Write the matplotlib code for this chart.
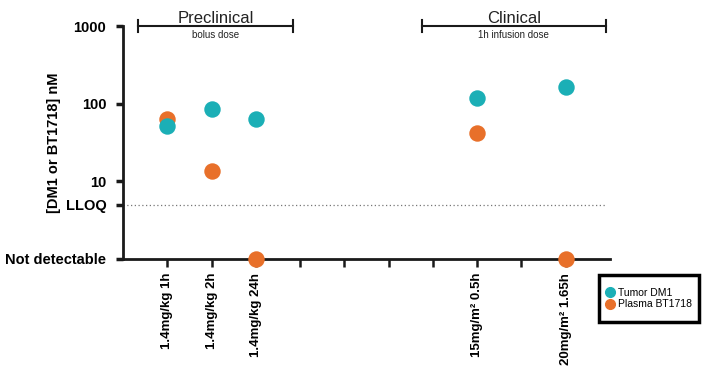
import numpy as np
import matplotlib.pyplot as plt
from matplotlib.lines import Line2D
from matplotlib.patches import Rectangle

plt.rcParams['font.family'] = ['Liberation Sans', 'DejaVu Sans']

# data (nM, log scale; 1 = not detectable)
positions = [1, 2, 3, 8, 10]
pos_labels = ["1.4mg/kg 1h", "1.4mg/kg 2h", "1.4mg/kg 24h",
              "15mg/m\u00b2 0.5h", "20mg/m\u00b2 1.65h"]
tumor_dm1 = [51, 85, 63, 117, 163]
plasma_bt1718 = [63, 13.5, 1, 42, 1]

y_ticks = [1, 5, 10, 100, 1000]
y_labels = ["Not detectable", "LLOQ", "10", "100", "1000"]
lloq = 5

teal = '#1BAFB6'
orange = '#E8702A'

fig = plt.figure(figsize=(7.18, 3.77), dpi=100)
ax = fig.add_axes([0.1713, 0.313, 0.6783, 0.618])

ax.set_yscale('log')
ax.set_ylim(1, 1000)
ax.set_xlim(0, 11)

ax.scatter(positions, plasma_bt1718, s=140, color=orange, zorder=3,
           clip_on=False, linewidths=0)
ax.scatter(positions, tumor_dm1, s=140, color=teal, zorder=4,
           clip_on=False, linewidths=0)

ax.plot([0, 10.9], [lloq, lloq], ls=(0, (1, 2)), color='#777777', lw=0.9)

for s in ['top', 'right']:
    ax.spines[s].set_visible(False)
for s in ['left', 'bottom']:
    ax.spines[s].set_linewidth(2.0)
    ax.spines[s].set_color('#1a1a1a')

ax.set_yticks(y_ticks)
ax.set_yticklabels(y_labels, fontsize=10.5, fontweight='bold')
ax.yaxis.set_minor_locator(plt.NullLocator())
ax.tick_params(axis='y', length=5, width=2.5, color='#1a1a1a', pad=7)

ax.set_xticks(range(1, 11))
xlabels = [''] * 10
for p, lab in zip(positions, pos_labels):
    xlabels[p - 1] = lab
ax.set_xticklabels(xlabels, rotation=90, fontsize=9.5, fontweight='bold')
ax.tick_params(axis='x', length=6, width=1.8, color='#1a1a1a', pad=4)

ax.set_ylabel("[DM1 or BT1718] nM", fontsize=10.5, fontweight='bold')
ax.yaxis.set_label_coords(-0.127, 0.5)

# group brackets
tr = ax.get_xaxis_transform()
for x0, x1, title, sub in [(0.33, 3.85, "Preclinical", "bolus dose"),
                           (6.76, 10.9, "Clinical", "1h infusion dose")]:
    ax.plot([x0, x1], [1.0, 1.0], color='#1a1a1a', lw=1.5, transform=tr, clip_on=False)
    for xx in (x0, x1):
        ax.plot([xx, xx], [0.975, 1.025], color='#1a1a1a', lw=1.5,
                transform=tr, clip_on=False)
    xm = (x0 + x1) / 2
    ax.text(xm, 1.013, title, transform=tr, ha='center', va='baseline',
            fontsize=12, color='#222222')
    ax.text(xm, 0.985, sub, transform=tr, ha='center', va='top',
            fontsize=7, color='#222222')

# legend with a heavy box outside the axes
fig.add_artist(Rectangle((0.834, 0.146), 0.139, 0.125, transform=fig.transFigure,
                         fill=False, edgecolor='black', lw=2.5))
handles = [Line2D([], [], marker='o', ls='', color=teal, markersize=7, label='Tumor DM1'),
           Line2D([], [], marker='o', ls='', color=orange, markersize=7, label='Plasma BT1718')]
fig.legend(handles=handles, loc='center', bbox_to_anchor=(0.9035, 0.2085),
           fontsize=7.5, frameon=False, handletextpad=0.3,
           labelspacing=0.15, handlelength=1.0, borderpad=0, borderaxespad=0)

fig.savefig("out.png", dpi=100)
